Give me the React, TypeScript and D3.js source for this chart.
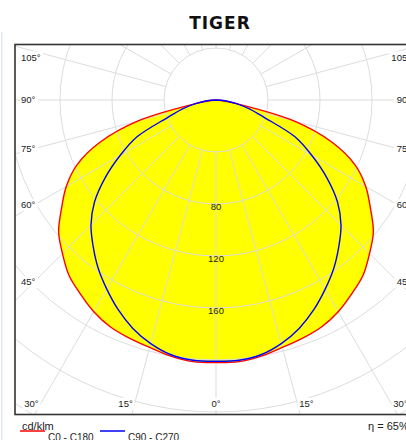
import React from "react";
import * as d3 from "d3";

// polar angles (deg from nadir) and intensities in cd/klm
const angles = [0, 5, 10, 15, 20, 25, 30, 35, 40, 45, 50, 55, 60, 65, 70, 75, 80, 85, 90];
const c0c180 = [202, 202, 200, 197, 195, 192.5, 188, 182, 176, 167, 158, 145, 133, 118, 95, 62, 16, 4, 0];
const c90c270 = [201, 201, 199, 194, 187, 178, 168, 158, 147, 136, 122, 104, 85, 67, 40, 27, 16, 7, 0];

const ringValues = [40, 80, 120, 160, 200, 240, 280, 320];
const ringLabels = [80, 120, 160];
const sideLabels = [105, 90, 75, 60, 45];
const bottomLabels = [-30, -15, 0, 15, 30];

const width = 406;
const height = 440;
const cx = 216;
const cy = 100;
const frame = { x: 15, y: 44.5, w: 402, h: 370 };

const r = d3.scaleLinear().domain([0, 40]).range([0, 52]);
const rad = (g: number) => (g * Math.PI) / 180;

// both halves of a symmetric plane, left side first
function halves(values: number[]) {
  const pts: { g: number; v: number }[] = [];
  for (let i = angles.length - 1; i > 0; i--) pts.push({ g: -angles[i], v: values[i] });
  for (let i = 0; i < angles.length; i++) pts.push({ g: angles[i], v: values[i] });
  return pts;
}

const radialLine = d3
  .lineRadial<{ g: number; v: number }>()
  .angle((d) => Math.PI - rad(d.g))
  .radius((d) => r(d.v))
  .curve(d3.curveCatmullRom);

const font = "'Liberation Sans', Arial, sans-serif";

export default function App() {
  const redPath = radialLine(halves(c0c180)) + "Z";
  const bluePath = radialLine(halves(c90c270)) + "Z";

  const spokes = d3.range(0, 360, 15);

  const sideY = (g: number) => {
    const t = (cx - 34) / Math.sin(rad(g));
    return Math.max(57.5, cy + t * Math.cos(rad(g)));
  };

  const label = (txt: string, x: number, y: number, anchor: string, key: string) => {
    const w = txt.length * 5 + 3;
    const bx = anchor === "start" ? x - 1 : anchor === "end" ? x - w + 1 : x - w / 2;
    return (
      <g key={key}>
        <rect x={bx} y={y - 6} width={w} height={12} fill="#fff" />
        <text x={x} y={y + 3.4} textAnchor={anchor as any} fontSize={9.5} fontFamily={font} fill="#222">
          {txt}
        </text>
      </g>
    );
  };

  return (
    <svg width={width} height={height} style={{ position: "absolute", left: 0, top: 0 }}>
      <rect x={0} y={0} width={width} height={height} fill="#fff" />
      <rect x={1} y={32} width={1.5} height={408} fill="#e4e9ef" />
      <text
        x={220}
        y={28.5}
        textAnchor="middle"
        fontFamily="'DejaVu Sans', sans-serif"
        fontWeight="bold"
        fontSize={17}
        letterSpacing={1}
        fill="#111"
      >
        TIGER
      </text>
      <defs>
        <clipPath id="frameClip">
          <rect x={frame.x} y={frame.y} width={frame.w} height={frame.h} />
        </clipPath>
      </defs>
      <g clipPath="url(#frameClip)">
        <g transform={`translate(${cx},${cy})`}>
          <path d={redPath} fill="#ffff00" />
          <path d={bluePath} fill="#ffff00" />
          {ringValues.map((v) => (
            <circle key={v} r={r(v)} fill="none" stroke="#dcdcdc" strokeWidth={1} />
          ))}
          {spokes.map((g) => {
            const [x1, y1] = d3.pointRadial(Math.PI - rad(g), r(40));
            const [x2, y2] = d3.pointRadial(Math.PI - rad(g), r(340));
            return <line key={g} x1={x1} y1={y1} x2={x2} y2={y2} stroke="#dcdcdc" strokeWidth={1} />;
          })}
          {ringLabels.map((v) => (
            <text key={v} x={0} y={r(v) + 5.5} textAnchor="middle" fontSize={9.5} fontFamily={font} fill="#222">
              {v}
            </text>
          ))}
          <path d={redPath} fill="none" stroke="#ff0000" strokeWidth={1.4} />
          <path d={bluePath} fill="none" stroke="#0000ff" strokeWidth={1.4} />
        </g>
        {sideLabels.map((g) => label(`${g}°`, 21, sideY(g), "start", "l" + g))}
        {sideLabels.map((g) => label(`${g}°`, 411, sideY(g), "end", "r" + g))}
        {bottomLabels.map((g) => {
          const a = rad(Math.abs(g));
          const ix = cx + Math.sign(g) * (404 - cy) * Math.tan(a);
          const x = g === 0 ? cx : ix + Math.sign(g) * 9;
          return label(`${Math.abs(g)}°`, x, 404, "middle", "b" + g);
        })}
      </g>
      <rect
        x={frame.x}
        y={frame.y}
        width={frame.w}
        height={frame.h}
        fill="none"
        stroke="#333"
        strokeWidth={1.6}
      />
      <text x={22} y={430} fontSize={11} fontFamily={font} fill="#222">
        cd/klm
      </text>
      <text x={368} y={430} fontSize={11} fontFamily={font} fill="#222">
        η = 65%
      </text>
      <line x1={20} x2={45} y1={431} y2={431} stroke="#ff0000" strokeWidth={1.5} />
      <text x={48} y={441} fontSize={10} fontFamily={font} fill="#222">
        C0 - C180
      </text>
      <line x1={100} x2={125} y1={431} y2={431} stroke="#0000ff" strokeWidth={1.5} />
      <text x={128} y={441} fontSize={10} fontFamily={font} fill="#222">
        C90 - C270
      </text>
    </svg>
  );
}
